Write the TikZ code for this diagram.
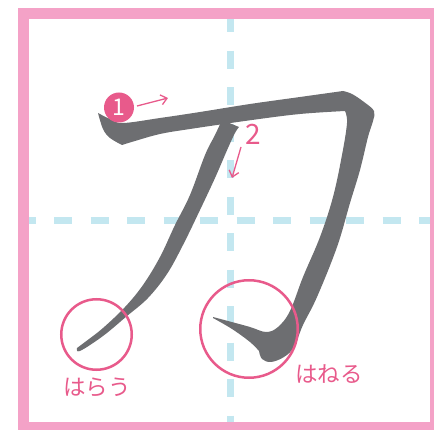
\documentclass[tikz,border=0pt]{standalone}
\usepackage{fontspec}
\newfontfamily\jp{Noto Sans CJK JP}
\usetikzlibrary{arrows.meta}
\definecolor{framepink}{HTML}{F4A2C7}
\definecolor{guideblue}{HTML}{C3E7F0}
\definecolor{accent}{HTML}{E85A8B}
\definecolor{ink}{HTML}{6D6E71}
\tikzset{
  guide/.style={guideblue, line width=7pt},
  ring/.style={circle, draw=accent, line width=2.5pt, inner sep=0pt},
  label/.style={text=accent, font=\jp\fontsize{22.5}{22.5}\selectfont, inner sep=0pt},
  numdot/.style={circle, fill=accent, text=white, minimum size=30pt, inner sep=0pt, font=\jp\fontsize{23}{23}\selectfont},
  numtxt/.style={text=accent, inner sep=0pt, font=\jp\fontsize{28}{28}\selectfont},
  orderarrow/.style={accent, line width=1.3pt, -{Straight Barb[length=6pt,width=10pt]}},
}
\begin{document}
\begin{tikzpicture}[x=1pt,y=-1pt]
\useasboundingbox (0,0) rectangle (434,430);
% frame
\draw[framepink, line width=11pt] (23.5,13.5) rectangle (435.5,427.5);
% guide lines
\draw[guide, dash pattern=on 18pt off 18.5pt, dash phase=4.8pt] (230.5,19) -- (230.5,422);
\draw[guide, dash pattern=on 18pt off 18.5pt, dash phase=11.5pt] (29,220.5) -- (430,220.5);
% stroke 1
\fill[ink] plot[smooth,tension=0.6] coordinates {(98,113) (110,119) (123,123) (160,118) (200,112) (250,104) (300,97) (343,91)}
 -- plot[smooth,tension=0.6] coordinates {(343,91) (352,94) (364,102) (374,111) (373,121) (368,137) (360,170) (350,203) (337,247) (317,297) (303,325) (294,347) (284,357) (271,362) (262,359) (259,351)}
 -- plot[smooth,tension=0.6] coordinates {(259,351) (250,342) (232,329) (213,318)}
 -- plot[smooth,tension=0.6] coordinates {(213,317) (228,321) (250,327) (266,332) (278,327) (290,311) (303,277) (320,237) (333,197) (342,155) (347,123) (345,111)}
 -- plot[smooth,tension=0.6] coordinates {(345,111) (300,114) (252,120) (190,129) (160,134) (135,141) (122,145)}
 -- plot[smooth,tension=0.6] coordinates {(122,145) (110,138) (103,129) (98,113)} -- cycle;
% stroke 2
\fill[ink] plot[smooth,tension=0.6] coordinates {(222,120) (215,135) (205,155) (190,195) (175,225) (160,257) (143,285) (125,307) (103,328) (85,342) (77,348)}
 -- plot[smooth,tension=0.6] coordinates {(77,348) (80,351) (103,336) (127,316) (148,298) (167,274) (183,245) (200,210) (215,178) (228,148) (235,133) (239,127)} -- cycle;
% stroke order
\node[numdot] (n1) at (119,107.5) {1};
\node[numtxt] (n2) at (253,134) {2};
\coordinate (a1s) at (137,106);
\coordinate (a1e) at (168,98);
\coordinate (a2s) at (241,147);
\coordinate (a2e) at (232,178);
\draw[orderarrow] (a1s) -- (a1e);
\draw[orderarrow] (a2s) -- (a2e);
% rings and labels
\node[ring, minimum size=70.5pt] (c1) at (96.5,334.5) {};
\node[ring, minimum size=97.5pt] (c2) at (249,329) {};
\node[label] (t1) at (97,387) {はらう};
\node[label] (t2) at (329,374) {はねる};
\end{tikzpicture}
\end{document}
